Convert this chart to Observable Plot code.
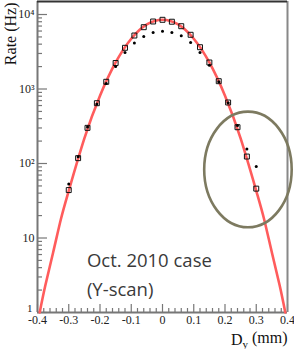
<!DOCTYPE html>
<html><head><meta charset="utf-8">
<script src="https://cdn.jsdelivr.net/npm/d3@7"></script>
<script src="https://cdn.jsdelivr.net/npm/@observablehq/plot@0.6"></script>
<style>body{margin:0;background:#fff} #chart svg{display:block}</style>
</head><body><div id="chart"></div>
<script>
// Scan positions (mm)
const dyPos = [-0.30,-0.27,-0.24,-0.21,-0.18,-0.15,-0.12,-0.09,-0.06,-0.03,0,0.03,0.06,0.09,0.12,0.15,0.18,0.21,0.24,0.27,0.30];
// Open squares (Hz)
const rateSquares = [44,118,301,645,1250,2235,3573,5224,6757,8057,8490,8000,6966,5343,3640,2270,1273,659,307,124,46];
// Black dots (Hz)
const rateDots = [53,123,309,629,1186,2004,3090,4143,5069,5733,5970,5733,5176,4209,3090,2086,1250,653,324,157,91];
// Fitted curve
const fitDy = [-0.393,-0.375,-0.35,-0.325,-0.30,-0.25,-0.20,-0.15,-0.10,-0.05,0,0.05,0.10,0.15,0.20,0.25,0.30,0.325,0.35,0.375,0.393];
const fitRate = [1,2.3,6.4,18,43,217,813,2270,4730,7350,8510,7350,4730,2270,813,217,43,18,6.4,2.3,1];
// Ticks
const xMajorTicks = [-0.4,-0.3,-0.2,-0.1,0,0.1,0.2,0.3,0.4];
const xTickLabels = ["-0.4","-0.3","-0.2","-0.1","0","0.1","0.2","0.3","0.4"];
const yMajorTicks = [1,10,100,1000,10000];
const yTickLabels = ["1","10","10²","10³","10⁴"];
// Annotation
const noteLines = ["Oct. 2010 case","(Y-scan)"];
const noteDy = [-0.242,-0.242];
const noteRate = [4.06,1.69];
const ellipseSpec = {cx: 0.275, rx: 0.14, rateTop: 489, rateBottom: 13.7};

const xMinorTicks = d3.range(-40, 41, 2).filter(v => v % 10 !== 0).map(v => v / 100);
const yMinorTicks = [];
for (const d of [1,10,100,1000]) for (let k = 2; k <= 9; k++) yMinorTicks.push(d * k);

const serif = "Liberation Serif, Times New Roman, serif";
const axisColor = "#777";
const xFmt = d => xTickLabels[xMajorTicks.indexOf(d)];
const yFmt = d => yTickLabels[yMajorTicks.indexOf(d)];

const squares = dyPos.map((d,i) => ({dy: d, rate: rateSquares[i]}));
const dots = dyPos.map((d,i) => ({dy: d, rate: rateDots[i]}));
const fit = fitDy.map((d,i) => ({dy: d, rate: fitRate[i]}));
const notes = noteLines.map((t,i) => ({text: t, dy: noteDy[i], rate: noteRate[i]}));

const tickOpts = {label: null, tickFormat: () => "", stroke: axisColor, strokeWidth: 1.2};
const labelOpts = {label: null, tickSize: 0, fontSize: 12, fontFamily: serif, fill: "#222"};

const chart = Plot.plot({
  width: 294, height: 349,
  marginLeft: 37, marginRight: 7, marginTop: 1, marginBottom: 37,
  style: {fontFamily: serif, background: "#fff", overflow: "visible"},
  x: {domain: [-0.4, 0.4], axis: null, label: null},
  y: {type: "log", domain: [1, 14950], axis: null, label: null},
  marks: [
    Plot.axisX({...tickOpts, ticks: xMinorTicks, tickSize: -4}),
    Plot.axisX({...tickOpts, ticks: xMajorTicks, tickSize: -8}),
    Plot.axisX({...labelOpts, ticks: xMajorTicks, tickPadding: 3, tickFormat: xFmt}),
    Plot.axisY({...tickOpts, ticks: yMinorTicks, tickSize: -5}),
    Plot.axisY({...tickOpts, ticks: yMajorTicks, tickSize: -10}),
    Plot.axisY({...labelOpts, ticks: yMajorTicks.slice(1), tickPadding: 3, tickFormat: yFmt}),
    Plot.axisY({...labelOpts, ticks: yMajorTicks.slice(0, 1), tickPadding: 5, dy: -4, fontSize: 11, tickFormat: yFmt}),
    Plot.ruleX([-0.4], {stroke: axisColor, strokeWidth: 2}),
    Plot.ruleY([1], {stroke: axisColor, strokeWidth: 2}),
    Plot.ruleX([0.4], {stroke: "#888", strokeWidth: 2}),
    Plot.ruleY([14950], {stroke: "#333", strokeWidth: 2}),
    Plot.line(fit, {x: "dy", y: "rate", stroke: "#ff5c5c", strokeWidth: 2.6, curve: "natural"}),
    Plot.dot(squares, {x: "dy", y: "rate", symbol: "square", r: 2.8, stroke: "#111", strokeWidth: 1, fill: "none"}),
    Plot.dot(dots, {x: "dy", y: "rate", r: 1.5, fill: "#000", stroke: "none"}),
    (index, scales) => {
      const {x, y} = scales;
      const yt = y(ellipseSpec.rateTop), yb = y(ellipseSpec.rateBottom);
      return d3.create("svg:ellipse")
        .attr("cx", x(ellipseSpec.cx)).attr("cy", (yt + yb) / 2)
        .attr("rx", x(ellipseSpec.cx + ellipseSpec.rx) - x(ellipseSpec.cx))
        .attr("ry", (yb - yt) / 2)
        .attr("fill", "none").attr("stroke", "#7d7a60").attr("stroke-width", 2.6)
        .node();
    },
    Plot.text(notes, {x: "dy", y: "rate", text: "text", textAnchor: "start", lineAnchor: "bottom",
      fontFamily: "Open Sans, sans-serif", fontSize: 18.5, fill: "#3a3a3a"}),
    Plot.text(["Rate (Hz)"], {frameAnchor: "top-left", rotate: -90, textAnchor: "end", lineAnchor: "bottom",
      dx: -22, dy: 1, fontSize: 16, fontFamily: serif, fill: "#111"}),
    Plot.text(["Dy (mm)"], {frameAnchor: "bottom-right", textAnchor: "end", lineAnchor: "bottom",
      dx: 0, dy: 32, fontSize: 16, fontFamily: serif, fill: "#111"})
  ]
});
d3.select(chart).selectAll("text").filter(function() { return this.textContent === "Dy (mm)"; })
  .each(function() {
    const t = d3.select(this);
    t.text(null);
    t.append("tspan").text("D");
    t.append("tspan").attr("font-size", 11).attr("dy", "0.3em").text("y");
    t.append("tspan").attr("dy", "-0.3em").text(" (mm)");
  });
document.getElementById("chart").append(chart);
</script>
</body></html>
